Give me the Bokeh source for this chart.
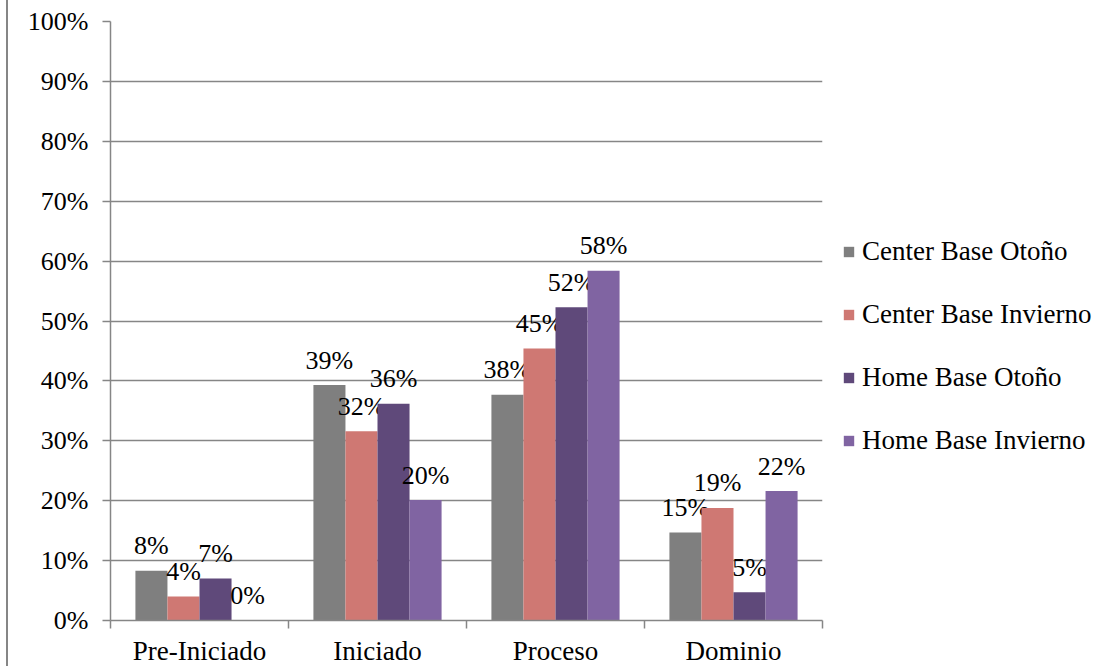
from bokeh.plotting import figure
from bokeh.models import (ColumnDataSource, Range1d, FixedTicker, NumeralTickFormatter,
                          Legend, LegendItem)
from bokeh.core.properties import value
from bokeh.embed import file_html
from bokeh.resources import INLINE

categories = ["Pre-Iniciado", "Iniciado", "Proceso", "Dominio"]
series_names = ["Center Base Otoño", "Center Base Invierno", "Home Base Otoño", "Home Base Invierno"]
center_otono = [0.083, 0.393, 0.377, 0.147]
center_invierno = [0.040, 0.316, 0.454, 0.188]
home_otono = [0.070, 0.362, 0.523, 0.047]
home_invierno = [0.0, 0.201, 0.584, 0.216]
y_ticks = [0.0, 0.1, 0.2, 0.3, 0.4, 0.5, 0.6, 0.7, 0.8, 0.9, 1.0]

series = [center_otono, center_invierno, home_otono, home_invierno]
colors = ["#7F7F7F", "#CF7873", "#5F497A", "#8064A2"]

FONT = "Liberation Serif"
AX = "#868686"
BAR_W = 0.18

p = figure(frame_width=712, frame_height=599, output_backend="svg", toolbar_location=None,
           x_range=Range1d(0, 4), y_range=Range1d(0, 1),
           min_border_left=110, min_border_right=0, min_border_top=21, min_border_bottom=0)
p.outline_line_color = None
p.border_fill_alpha = 0
p.background_fill_color = "white"
p.styles = {"background": "linear-gradient(to right, white 6px, #868686 6px, #868686 8px, white 8px)"}
p.xgrid.visible = False
p.ygrid.ticker = FixedTicker(ticks=y_ticks)
p.ygrid.grid_line_color = AX
p.ygrid.grid_line_width = 1.5

# y axis
ya = p.yaxis[0]
ya.ticker = FixedTicker(ticks=y_ticks)
ya.formatter = NumeralTickFormatter(format="0%")
ya.axis_line_color = AX
ya.axis_line_width = 1.5
ya.major_tick_line_color = AX
ya.major_tick_line_width = 1.5
ya.major_tick_out = 8
ya.major_tick_in = 0
ya.minor_tick_line_color = None
ya.major_label_standoff = 14
ya.major_label_text_font = FONT
ya.major_label_text_font_size = "26px"
ya.major_label_text_color = "black"

# x axis: labels at category centres, ticks at category boundaries
centers = [i + 0.5 for i in range(len(categories))]
xa = p.xaxis[0]
xa.ticker = FixedTicker(ticks=centers, minor_ticks=[0, 1, 2, 3, 4])
xa.major_label_overrides = {c: lab for c, lab in zip(centers, categories)}
xa.axis_line_color = AX
xa.axis_line_width = 1.5
xa.major_tick_line_color = None
xa.major_tick_out = 0
xa.major_tick_in = 0
xa.minor_tick_line_color = AX
xa.minor_tick_line_width = 1.5
xa.minor_tick_out = 8
xa.minor_tick_in = 0
xa.major_label_standoff = 7
xa.major_label_text_font = FONT
xa.major_label_text_font_size = "27px"
xa.major_label_text_color = "black"

items = []
for j, (vals, name, col) in enumerate(zip(series, series_names, colors)):
    xs = [c + (j - 1.5) * BAR_W for c in centers]
    src = ColumnDataSource(dict(x=xs, top=vals, label=[f"{int(v * 100 + 0.5)}%" for v in vals]))
    r = p.vbar(x="x", top="top", width=BAR_W, bottom=0, source=src,
               fill_color=col, line_color=None)
    p.text(x="x", y="top", text="label", source=src, text_align="center",
           text_baseline="alphabetic", y_offset=-25, text_font=value(FONT),
           text_font_size="26px", text_color="black")
    items.append(LegendItem(label=name, renderers=[r]))

legend = Legend(items=items, location=(20, 164), orientation="vertical",
                glyph_width=13, glyph_height=13, label_height=32, spacing=31,
                label_standoff=7, padding=0, margin=0,
                label_text_font=FONT, label_text_font_size="27px",
                label_text_color="black", border_line_color=None,
                background_fill_alpha=0)
p.add_layout(legend, "right")

open("out.html", "w").write(file_html(p, INLINE))
